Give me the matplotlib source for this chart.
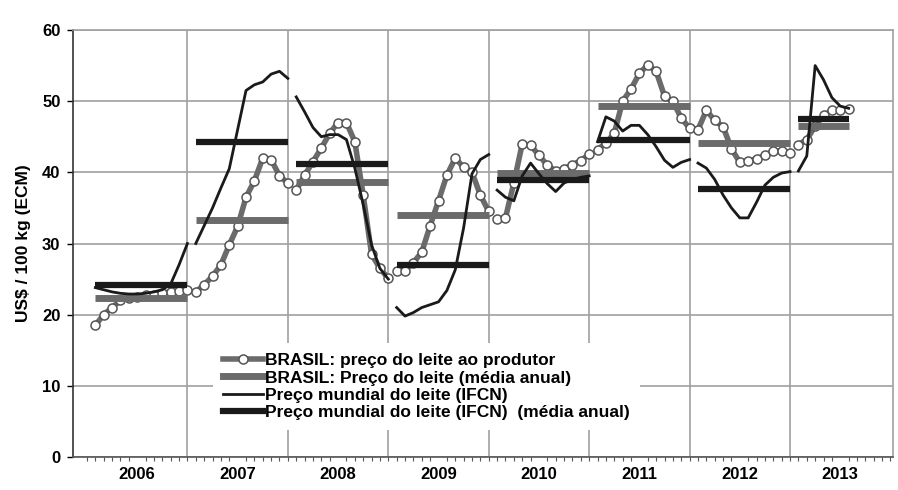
import numpy as np
import matplotlib.pyplot as plt
from matplotlib.lines import Line2D

plt.rcParams['font.family'] = ['Liberation Sans', 'DejaVu Sans']
plt.rcParams['font.weight'] = 'bold'

# anos e meses com dados (2013 vai ate julho)
years = [2006, 2007, 2008, 2009, 2010, 2011, 2012, 2013]
months_per_year = [12, 12, 12, 12, 12, 12, 12, 7]

# BRASIL: preco do leite ao produtor (mensal, US$/100 kg)
brasil_preco = [
    18.5, 20.0, 21.0, 22.0, 22.3, 22.5, 22.7, 22.8, 23.0, 23.2, 23.3, 23.5,
    23.2, 24.2, 25.4, 27.0, 29.8, 32.4, 36.5, 38.8, 42.0, 41.8, 39.5, 38.5,
    37.5, 39.6, 41.5, 43.4, 45.5, 47.0, 47.0, 44.3, 36.8, 28.5, 26.5, 25.1,
    26.2, 26.2, 27.3, 28.8, 32.5, 36.0, 39.6, 42.0, 40.7, 40.0, 36.8, 34.5,
    33.4, 33.6, 38.5, 44.0, 43.8, 42.4, 41.0, 40.2, 40.5, 41.1, 41.6, 42.6,
    43.2, 44.1, 45.5, 50.0, 51.7, 53.9, 55.1, 54.2, 50.7, 50.0, 47.6, 46.2,
    46.0, 48.7, 47.3, 46.4, 43.3, 41.4, 41.6, 41.9, 42.4, 43.0, 43.0, 42.7,
    43.9, 44.6, 46.5, 48.0, 48.7, 48.7, 48.9,
]

# Preco mundial do leite (IFCN), mensal
ifcn_preco = [
    23.8, 23.5, 23.2, 23.0, 22.9, 22.9, 23.0, 23.2, 23.5, 24.3, 27.0, 30.0,
    30.0, 32.5, 35.0, 37.8, 40.5, 46.0, 51.5, 52.3, 52.7, 53.8, 54.2, 53.2,
    50.6, 48.5, 46.3, 45.0, 45.3, 45.3, 44.6, 40.6, 35.5, 29.8, 26.5, 25.0,
    21.0, 19.8, 20.3, 21.0, 21.4, 21.8, 23.4, 26.3, 32.2, 39.8, 41.8, 42.5,
    37.5, 36.5, 36.0, 39.5, 41.3, 39.8, 38.4, 37.3, 38.5, 39.0, 39.3, 39.5,
    44.3, 47.8, 47.2, 45.8, 46.6, 46.6, 45.3, 43.6, 41.7, 40.7, 41.4, 41.8,
    41.3, 40.6, 39.0, 36.8, 35.0, 33.6, 33.6, 35.8, 38.2, 39.3, 39.9, 40.1,
    40.2, 42.3, 55.0, 53.0, 50.5, 49.3, 49.0,
]

# medias anuais
brasil_media = [22.4, 33.3, 38.7, 34.0, 39.9, 49.3, 44.1, 46.5]
ifcn_media = [24.1, 44.3, 41.2, 27.0, 38.9, 44.6, 37.6, 47.5]

labels = [
    'BRASIL: preço do leite ao produtor',
    'BRASIL: Preço do leite (média anual)',
    'Preço mundial do leite (IFCN)',
    'Preço mundial do leite (IFCN)  (média anual)',
]


def split_years(values):
    # um segmento por ano (linhas interrompidas entre os anos)
    xs, ys = [], []
    pos = 0
    for y, n in zip(years, months_per_year):
        start = (y - years[0]) * 12 + 1
        xs += list(np.arange(n) + start) + [np.nan]
        ys += list(values[pos:pos + n]) + [np.nan]
        pos += n
    return xs, ys


gray = '#6b6b6b'
grid_c = '#a0a0a0'

fig = plt.figure(figsize=(8.98, 4.9), dpi=100)
ax = fig.add_axes([73 / 898, 1 - 457 / 490, 820 / 898, 427 / 490])

# grade
for v in range(0, 61, 10):
    ax.axhline(v, color=grid_c, lw=1.2, zorder=0)
for y in years[1:]:
    ax.axvline((y - years[0]) * 12, color=grid_c, lw=1.2, zorder=0)

bx, by = split_years(brasil_preco)
ax.plot(bx, by, color=gray, lw=4, marker='o', ms=6.5, mfc='white',
        mec='#555555', mew=1.1, zorder=2)

for y, n, v in zip(years, months_per_year, brasil_media):
    start = (y - years[0]) * 12 + 1
    ax.hlines(v, start, start + n - 1, color=gray, lw=5, zorder=3)

ix, iy = split_years(ifcn_preco)
ax.plot(ix, iy, color='#1a1a1a', lw=2, zorder=4)

for y, n, v in zip(years, months_per_year, ifcn_media):
    start = (y - years[0]) * 12 + 1
    ax.hlines(v, start, start + n - 1, color='#1a1a1a', lw=4.5, zorder=5)

ax.set_xlim(-1.67, 96.3)
ax.set_ylim(0, 60)

ax.set_yticks(range(0, 61, 10))
ax.tick_params(axis='y', length=4, width=1, pad=5, labelsize=12)
ax.set_xticks([(y - years[0]) * 12 + 6 for y in years])
ax.set_xticklabels([str(y) for y in years])
ax.set_xticks(np.arange(0, 97), minor=True)
ax.tick_params(axis='x', which='major', length=0, pad=7, labelsize=12)
ax.tick_params(axis='x', which='minor', length=3, width=0.8, color='#555555')
for lab in ax.get_xticklabels() + ax.get_yticklabels():
    lab.set_fontweight('bold')

ax.spines['left'].set_color('#333333')
ax.spines['bottom'].set_color('#555555')
ax.spines['top'].set_color(grid_c)
ax.spines['right'].set_color(grid_c)
for s in ax.spines.values():
    s.set_linewidth(1.2)

ax.set_ylabel('US$ / 100 kg (ECM)', fontsize=12.5, fontweight='bold', labelpad=8)

handles = [
    Line2D([], [], color=gray, lw=4, marker='o', ms=6.5, mfc='white', mec='#555555', mew=1.1),
    Line2D([], [], color=gray, lw=5),
    Line2D([], [], color='#1a1a1a', lw=2),
    Line2D([], [], color='#1a1a1a', lw=4.5),
]
leg = ax.legend(handles, labels, loc='center left', bbox_to_anchor=(0.16, 0.165),
                frameon=True, facecolor='white', edgecolor='none', framealpha=1,
                handlelength=2.3, handletextpad=0.1,
                labelspacing=0.12, borderpad=0.6, fontsize=12.5)
for t in leg.get_texts():
    t.set_fontweight('bold')
leg.set_zorder(6)

fig.savefig('out.png', dpi=100)
